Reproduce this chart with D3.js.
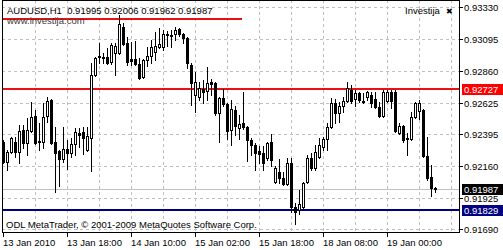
<!DOCTYPE html>
<html>
<head>
<meta charset="utf-8">
<script src="https://cdnjs.cloudflare.com/ajax/libs/d3/7.8.5/d3.min.js"></script>
<style>
	body { margin: 0; background: #fff; }
	#chart { width: 503px; height: 250px; }
	text { font-family: "Liberation Sans", Arial, sans-serif; font-size: 9.5px; fill: #000; white-space: pre; }
</style>
</head>
<body>
<div id="chart"></div>
<script>

// AUDUSD H1 bars, 13 Jan 2010 02:00 onwards
const opens = [0.92335,0.92187,0.92261,0.92335,0.92261,0.92424,0.92328,0.92417,0.92528,0.92343,
	0.92335,0.92528,0.92646,0.92335,0.92269,0.92210,0.92283,0.92254,0.92320,0.92402,
	0.92409,0.92276,0.92365,0.92831,0.92964,0.92964,0.92964,0.92927,0.92993,0.92993,
	0.93185,0.93067,0.92949,0.92949,0.92912,0.92816,0.92942,0.92971,0.93000,0.93037,
	0.93037,0.93126,0.93119,0.93134,0.93171,0.93134,0.93104,0.92905,0.92683,0.92668,
	0.92727,0.92713,0.92779,0.92772,0.92550,0.92661,0.92616,0.92424,0.92572,0.92439,
	0.92476,0.92446,0.92350,0.92313,0.92269,0.92254,0.92217,0.92335,0.92040,0.92114,
	0.92070,0.92026,0.92180,0.91855,0.91833,0.91855,0.92040,0.92217,0.92143,0.92224,
	0.92298,0.92357,0.92446,0.92624,0.92550,0.92601,0.92639,0.92720,0.92653,0.92698,
	0.92639,0.92668,0.92683,0.92653,0.92594,0.92528,0.92639,0.92705,0.92705,0.92402,
	0.92454,0.92365,0.92357,0.92520,0.92565,0.92572,0.92232,0.92077,0.91995];
const highs = [0.92350,0.92276,0.92372,0.92372,0.92461,0.92461,0.92513,0.92631,0.92572,0.92476,
	0.92624,0.92668,0.92653,0.92446,0.92276,0.92446,0.92350,0.92365,0.92439,0.92439,
	0.92446,0.92446,0.92920,0.92964,0.93067,0.92993,0.93030,0.93067,0.93067,0.93274,
	0.93215,0.93111,0.93074,0.93082,0.92957,0.92949,0.93037,0.93089,0.93148,0.93178,
	0.93163,0.93156,0.93163,0.93185,0.93178,0.93141,0.93111,0.92920,0.92853,0.92779,
	0.92794,0.92890,0.92801,0.92779,0.92668,0.92727,0.92624,0.92646,0.92601,0.92535,
	0.92705,0.92454,0.92365,0.92328,0.92306,0.92306,0.92335,0.92394,0.92158,0.92210,
	0.92114,0.92217,0.92217,0.91885,0.91981,0.92040,0.92239,0.92254,0.92313,0.92365,
	0.92372,0.92476,0.92661,0.92653,0.92631,0.92668,0.92779,0.92757,0.92720,0.92705,
	0.92698,0.92713,0.92705,0.92705,0.92631,0.92720,0.92720,0.92720,0.92720,0.92476,
	0.92461,0.92402,0.92557,0.92631,0.92646,0.92579,0.92372,0.92166,0.92006];
const lows = [0.92180,0.92129,0.92254,0.92224,0.92180,0.92291,0.92239,0.92409,0.92320,0.92276,
	0.92291,0.92483,0.92320,0.91966,0.92011,0.92187,0.92136,0.92224,0.92239,0.92298,
	0.92247,0.92269,0.92121,0.92824,0.92920,0.92920,0.92912,0.92912,0.92831,0.92986,
	0.93052,0.92905,0.92905,0.92905,0.92801,0.92809,0.92897,0.92920,0.92942,0.93030,
	0.93015,0.93045,0.93037,0.93089,0.93119,0.93067,0.92883,0.92609,0.92557,0.92646,
	0.92624,0.92646,0.92683,0.92535,0.92335,0.92601,0.92357,0.92313,0.92387,0.92357,
	0.92431,0.92195,0.92239,0.92129,0.92180,0.92129,0.92202,0.92158,0.92033,0.92033,
	0.92018,0.92018,0.91818,0.91729,0.91803,0.91848,0.92033,0.92129,0.92129,0.92217,
	0.92276,0.92276,0.92439,0.92476,0.92483,0.92557,0.92631,0.92624,0.92601,0.92631,
	0.92624,0.92646,0.92594,0.92587,0.92520,0.92520,0.92631,0.92587,0.92409,0.92394,
	0.92335,0.92239,0.92350,0.92513,0.92505,0.92224,0.92055,0.91937,0.91962];
const closes = [0.92187,0.92261,0.92365,0.92261,0.92417,0.92328,0.92424,0.92520,0.92328,0.92335,
	0.92520,0.92639,0.92328,0.92254,0.92210,0.92283,0.92254,0.92320,0.92409,0.92387,
	0.92365,0.92380,0.92831,0.92957,0.92971,0.92957,0.92920,0.93052,0.93045,0.93207,
	0.93059,0.92927,0.92934,0.92912,0.92809,0.92942,0.92971,0.93037,0.93045,0.93059,
	0.93134,0.93134,0.93126,0.93163,0.93134,0.93104,0.92920,0.92772,0.92779,0.92735,
	0.92705,0.92772,0.92764,0.92550,0.92661,0.92616,0.92417,0.92579,0.92454,0.92468,
	0.92446,0.92350,0.92313,0.92254,0.92247,0.92180,0.92328,0.92202,0.92143,0.92070,
	0.92026,0.92180,0.91855,0.91818,0.91877,0.92033,0.92217,0.92143,0.92261,0.92313,
	0.92357,0.92446,0.92624,0.92550,0.92601,0.92639,0.92735,0.92639,0.92698,0.92646,
	0.92631,0.92705,0.92624,0.92594,0.92528,0.92705,0.92705,0.92639,0.92417,0.92454,
	0.92350,0.92357,0.92520,0.92624,0.92624,0.92232,0.92070,0.91996,0.91987];

// price scale labels
const priceTicks = [0.93330, 0.93095, 0.92860, 0.92625, 0.92395, 0.92160, 0.91925, 0.91690];

// time scale labels and the bar they sit on
const timeTickBars = [0, 16, 32, 48, 64, 80, 96];
const timeLabels = ["13 Jan 2010", "13 Jan 18:00", "14 Jan 10:00", "15 Jan 02:00", "15 Jan 18:00", "18 Jan 08:00", "19 Jan 00:00"];

// drawn objects
const resistLevel = 0.92727;
const supportLevel = 0.91829;
const trendLevel = 0.93242;
const trendBars = [0, 60];

class CandleChart {

	constructor(parentElement){
		this._parentElement = parentElement;
	}

	initVis() {
		let vis = this;

		vis.width = 503;
		vis.height = 250;

		// plot frame in pixels
		vis.left = 2;
		vis.right = 459;
		vis.top = 0;
		vis.bottom = 232;

		vis.svg = d3.select("#" + vis._parentElement).append("svg")
			.attr("width", vis.width)
			.attr("height", vis.height)
			.attr("shape-rendering", "crispEdges");

		// one bar every 4 px, centre of pixel column
		vis.x = d3.scaleLinear()
			.domain([0, 1])
			.range([3.5, 7.5]);

		vis.y = d3.scaleLinear()
			.domain([0.91670, 0.93385])
			.range([vis.bottom, 0]);

		const row = v => Math.round(vis.y(v));

		// grid
		vis.svg.append("g")
			.selectAll("line")
			.data(priceTicks)
			.enter()
			.append("line")
			.attr("x1", vis.left)
			.attr("x2", vis.right)
			.attr("y1", d => row(d) + 0.5)
			.attr("y2", d => row(d) + 0.5)
			.attr("stroke", "#c0c0c0")
			.attr("stroke-dasharray", "3,3");

		vis.svg.append("g")
			.selectAll("line")
			.data(d3.range(8, 113, 8))
			.enter()
			.append("line")
			.attr("x1", d => vis.x(d))
			.attr("x2", d => vis.x(d))
			.attr("y1", vis.top)
			.attr("y2", vis.bottom)
			.attr("stroke", "#c0c0c0")
			.attr("stroke-dasharray", "3,3");

		// bid line
		vis.svg.append("line")
			.attr("x1", vis.left)
			.attr("x2", vis.right)
			.attr("y1", row(closes[closes.length - 1]) + 0.5)
			.attr("y2", row(closes[closes.length - 1]) + 0.5)
			.attr("stroke", "#c0c0c0");

		// horizontal levels and trendline
		vis.svg.append("rect")
			.attr("x", vis.left)
			.attr("y", row(resistLevel) - 1)
			.attr("width", vis.right - vis.left)
			.attr("height", 2)
			.attr("fill", "#e81010");

		vis.svg.append("rect")
			.attr("x", vis.left)
			.attr("y", row(supportLevel) - 1)
			.attr("width", vis.right - vis.left)
			.attr("height", 2)
			.attr("fill", "#000080");

		vis.svg.append("rect")
			.attr("x", vis.x(trendBars[0]) - 1.5)
			.attr("y", row(trendLevel) - 1)
			.attr("width", vis.x(trendBars[1]) - vis.x(trendBars[0]))
			.attr("height", 2)
			.attr("fill", "#e81010");

		// candles
		const bars = opens.map((o, i) => ({i: i, o: o, h: highs[i], l: lows[i], c: closes[i]}));

		const candle = vis.svg.append("g")
			.selectAll("g")
			.data(bars)
			.enter()
			.append("g");

		candle.append("rect")
			.attr("x", d => vis.x(d.i) - 0.5)
			.attr("y", d => row(d.h))
			.attr("width", 1)
			.attr("height", d => row(d.l) - row(d.h) + 1)
			.attr("fill", "#000");

		candle.append("rect")
			.attr("x", d => vis.x(d.i) - 1.5)
			.attr("y", d => Math.min(row(d.o), row(d.c)))
			.attr("width", 3)
			.attr("height", d => Math.abs(row(d.o) - row(d.c)) + 1)
			.attr("fill", "#000");

		candle.filter(d => d.c > d.o && Math.abs(row(d.o) - row(d.c)) > 1)
			.append("rect")
			.attr("x", d => vis.x(d.i) - 0.5)
			.attr("y", d => row(d.c) + 1)
			.attr("width", 1)
			.attr("height", d => row(d.o) - row(d.c) - 1)
			.attr("fill", "#fff");

		// frame
		vis.svg.append("rect")
			.attr("x", vis.left + 0.5)
			.attr("y", vis.top + 0.5)
			.attr("width", vis.right - vis.left)
			.attr("height", vis.bottom - vis.top)
			.attr("fill", "none")
			.attr("stroke", "#000");

		// price scale
		const priceAxis = vis.svg.append("g");

		priceAxis.selectAll("line")
			.data(priceTicks)
			.enter()
			.append("line")
			.attr("x1", vis.right)
			.attr("x2", vis.right + 4)
			.attr("y1", d => row(d) + 0.5)
			.attr("y2", d => row(d) + 0.5)
			.attr("stroke", "#000");

		priceAxis.selectAll("text")
			.data(priceTicks)
			.enter()
			.append("text")
			.attr("x", vis.right + 5)
			.attr("y", d => row(d) + 4)
			.text(d => d.toFixed(5));

		// coloured price tags, drawn over the scale like the terminal does
		const tags = [
			{v: resistLevel, fill: "#ff0000"},
			{v: closes[closes.length - 1], fill: "#000"},
			{v: supportLevel, fill: "#000080"}
		];

		const tag = vis.svg.append("g")
			.selectAll("g")
			.data(tags)
			.enter()
			.append("g");

		tag.append("rect")
			.attr("x", vis.right + 3)
			.attr("y", d => row(d.v) - 5)
			.attr("width", vis.width - vis.right - 3)
			.attr("height", 11)
			.attr("fill", d => d.fill);

		tag.append("text")
			.attr("x", vis.right + 5)
			.attr("y", d => row(d.v) + 4)
			.style("fill", "#fff")
			.text(d => d.v.toFixed(5));

		// time scale
		const timeAxis = vis.svg.append("g");

		timeAxis.selectAll("line")
			.data(timeTickBars)
			.enter()
			.append("line")
			.attr("x1", d => vis.x(d))
			.attr("x2", d => vis.x(d))
			.attr("y1", vis.bottom)
			.attr("y2", vis.bottom + 5)
			.attr("stroke", "#000");

		timeAxis.selectAll("text")
			.data(timeTickBars)
			.enter()
			.append("text")
			.attr("x", d => vis.x(d) - 0.5)
			.attr("y", 246)
			.text((d, i) => timeLabels[i]);

		// texts on the chart
		const last = bars[bars.length - 1];
		vis.svg.append("text")
			.attr("x", 7)
			.attr("y", 14)
			.text("AUDUSD,H1  " + [last.o, last.h, last.l, last.c].map(v => v.toFixed(5)).join(" "));

		vis.svg.append("text")
			.attr("x", 7)
			.attr("y", 24)
			.style("fill", "#3a3a3a")
			.text("www.investija.com");

		vis.svg.append("text")
			.attr("x", 405)
			.attr("y", 14)
			.text("Investija");

		vis.svg.append("text")
			.attr("x", 446)
			.attr("y", 14)
			.style("font-family", "DejaVu Sans")
			.style("font-size", "8px")
			.text("\u2716");

		vis.svg.append("text")
			.attr("x", 6)
			.attr("y", 228)
			.text("ODL MetaTrader, \u00a9 2001-2009 MetaQuotes Software Corp.");
	}
}

let chart = new CandleChart("chart");
chart.initVis();

</script>
</body>
</html>
